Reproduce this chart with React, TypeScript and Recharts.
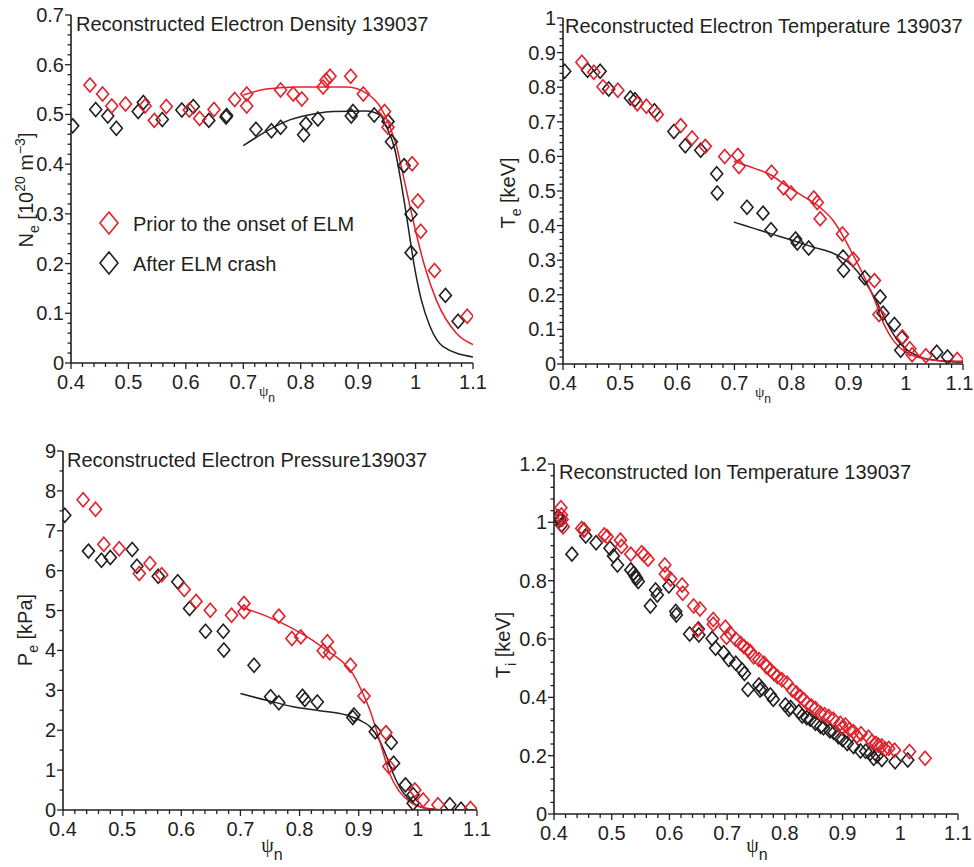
import React from "react"
import { ComposedChart, Scatter, Line, XAxis, YAxis, Label, Legend } from "recharts"

type Pt = [number, number]

const RED = "#e3202a"
const INK = "#231f20"
const FONT = "'Liberation Sans', Arial, Helvetica, sans-serif"
const GREEK = "'Liberation Serif', 'DejaVu Serif', serif"

const X_TICKS = [0.4, 0.5, 0.6, 0.7, 0.8, 0.9, 1, 1.1]
const SERIES_NAMES = ["Prior to the onset of ELM", "After ELM crash"]

// electron density [10^20 m^-3]
const NE_TICKS = [0, 0.1, 0.2, 0.3, 0.4, 0.5, 0.6, 0.7]
const NE_PRIOR: Pt[] = [
    [0.433, 0.559], [0.455, 0.541], [0.471, 0.517], [0.495, 0.521], [0.529, 0.517],
    [0.545, 0.488], [0.566, 0.516], [0.606, 0.509], [0.624, 0.492], [0.649, 0.51],
    [0.685, 0.53], [0.706, 0.541], [0.706, 0.517], [0.765, 0.549], [0.787, 0.541],
    [0.802, 0.531], [0.839, 0.555], [0.844, 0.569], [0.851, 0.577], [0.887, 0.577],
    [0.909, 0.541], [0.946, 0.506], [0.952, 0.474], [0.994, 0.401], [1.004, 0.326],
    [1.009, 0.265], [1.033, 0.186], [1.09, 0.094],
]
const NE_AFTER: Pt[] = [
    [0.403, 0.477], [0.443, 0.51], [0.464, 0.497], [0.479, 0.472], [0.517, 0.506],
    [0.526, 0.524], [0.559, 0.49], [0.593, 0.509], [0.613, 0.516], [0.64, 0.488],
    [0.67, 0.495], [0.671, 0.498], [0.722, 0.47], [0.749, 0.467], [0.765, 0.474],
    [0.805, 0.459], [0.809, 0.481], [0.83, 0.491], [0.888, 0.497], [0.891, 0.506],
    [0.928, 0.499], [0.952, 0.486], [0.958, 0.445], [0.98, 0.397], [0.992, 0.299],
    [0.992, 0.222], [1.052, 0.136], [1.074, 0.084],
]
const NE_FIT_PRIOR: Pt[] = [
    [0.7, 0.539], [0.74, 0.551], [0.798, 0.555], [0.88, 0.555], [0.914, 0.543],
    [0.938, 0.516], [0.955, 0.476], [0.967, 0.435], [0.975, 0.395], [0.984, 0.348],
    [1.001, 0.261], [1.016, 0.194], [1.036, 0.127], [1.071, 0.06], [1.1, 0.037],
]
const NE_FIT_AFTER: Pt[] = [
    [0.7, 0.437], [0.74, 0.466], [0.781, 0.489], [0.827, 0.502], [0.856, 0.506],
    [0.914, 0.507], [0.938, 0.499], [0.949, 0.476], [0.964, 0.429], [0.975, 0.362],
    [0.987, 0.275], [0.998, 0.194], [1.01, 0.127], [1.025, 0.074], [1.048, 0.033],
    [1.1, 0.012],
]

// electron temperature [keV]
const TE_TICKS = [0, 0.1, 0.2, 0.3, 0.4, 0.5, 0.6, 0.7, 0.8, 0.9, 1]
const TE_PRIOR: Pt[] = [
    [0.433, 0.872], [0.454, 0.843], [0.47, 0.801], [0.496, 0.791], [0.53, 0.752],
    [0.546, 0.745], [0.565, 0.721], [0.606, 0.689], [0.626, 0.653], [0.649, 0.629],
    [0.683, 0.6], [0.706, 0.603], [0.708, 0.571], [0.765, 0.554], [0.786, 0.509],
    [0.799, 0.494], [0.839, 0.48], [0.845, 0.467], [0.85, 0.42], [0.889, 0.376],
    [0.908, 0.303], [0.945, 0.241], [0.953, 0.143], [0.994, 0.078], [1.007, 0.044],
    [1.011, 0.027], [1.035, 0.024], [1.09, 0.013],
]
const TE_AFTER: Pt[] = [
    [0.403, 0.846], [0.443, 0.849], [0.465, 0.846], [0.48, 0.795], [0.518, 0.769],
    [0.526, 0.764], [0.56, 0.732], [0.594, 0.672], [0.614, 0.631], [0.641, 0.618],
    [0.669, 0.55], [0.67, 0.494], [0.722, 0.453], [0.75, 0.436], [0.764, 0.388],
    [0.807, 0.361], [0.81, 0.35], [0.83, 0.335], [0.89, 0.309], [0.891, 0.271],
    [0.928, 0.249], [0.955, 0.194], [0.96, 0.147], [0.98, 0.114], [0.993, 0.075],
    [0.991, 0.04], [1.054, 0.034], [1.073, 0.02],
]
const TE_FIT_PRIOR: Pt[] = [
    [0.699, 0.586], [0.734, 0.566], [0.763, 0.547], [0.792, 0.514], [0.822, 0.483],
    [0.851, 0.451], [0.874, 0.412], [0.892, 0.364], [0.909, 0.311], [0.927, 0.253],
    [0.944, 0.19], [0.962, 0.114], [0.979, 0.066], [0.997, 0.037], [1.026, 0.017],
    [1.055, 0.01], [1.1, 0.008],
]
const TE_FIT_AFTER: Pt[] = [
    [0.699, 0.41], [0.734, 0.392], [0.769, 0.374], [0.804, 0.356], [0.839, 0.337],
    [0.874, 0.319], [0.897, 0.297], [0.915, 0.268], [0.932, 0.229], [0.95, 0.176],
    [0.967, 0.118], [0.985, 0.07], [1.002, 0.041], [1.026, 0.02], [1.055, 0.01],
    [1.1, 0.005],
]

// electron pressure [kPa]
const PE_TICKS = [0, 1, 2, 3, 4, 5, 6, 7, 8, 9]
const PE_PRIOR: Pt[] = [
    [0.434, 7.78], [0.455, 7.54], [0.469, 6.66], [0.495, 6.55], [0.529, 5.93],
    [0.547, 6.18], [0.567, 5.9], [0.605, 5.53], [0.625, 5.23], [0.649, 5.01],
    [0.685, 4.88], [0.706, 5.18], [0.706, 4.97], [0.765, 4.86], [0.787, 4.3],
    [0.802, 4.34], [0.84, 3.99], [0.847, 4.22], [0.851, 3.94], [0.886, 3.63],
    [0.909, 2.86], [0.946, 1.94], [0.951, 1.09], [0.995, 0.5], [1.009, 0.25],
    [1.034, 0.13], [1.089, 0.04],
]
const PE_AFTER: Pt[] = [
    [0.403, 7.39], [0.443, 6.49], [0.465, 6.26], [0.48, 6.33], [0.517, 6.53],
    [0.525, 6.11], [0.561, 5.86], [0.594, 5.72], [0.614, 5.05], [0.641, 4.48],
    [0.671, 4.48], [0.672, 4.01], [0.723, 3.63], [0.751, 2.84], [0.765, 2.69],
    [0.805, 2.85], [0.809, 2.77], [0.83, 2.71], [0.892, 2.38], [0.89, 2.32],
    [0.928, 1.96], [0.955, 1.69], [0.959, 1.17], [0.979, 0.63], [0.992, 0.38],
    [0.992, 0.17], [1.054, 0.13], [1.073, 0.02],
]
const PE_FIT_PRIOR: Pt[] = [
    [0.7, 5.09], [0.744, 4.86], [0.783, 4.59], [0.817, 4.3], [0.845, 4.01],
    [0.873, 3.71], [0.89, 3.42], [0.907, 2.92], [0.919, 2.5], [0.93, 2.0],
    [0.941, 1.46], [0.952, 0.92], [0.969, 0.46], [0.986, 0.21], [1.014, 0.04],
    [1.043, 0.0], [1.1, 0.0],
]
const PE_FIT_AFTER: Pt[] = [
    [0.7, 2.92], [0.744, 2.75], [0.789, 2.59], [0.834, 2.49], [0.879, 2.38],
    [0.902, 2.25], [0.919, 2.09], [0.935, 1.75], [0.947, 1.34], [0.958, 0.92],
    [0.969, 0.58], [0.981, 0.33], [0.997, 0.13], [1.02, 0.03], [1.054, 0.0],
    [1.1, 0.0],
]

// ion temperature [keV], no fits drawn
const TI_TICKS = [0, 0.2, 0.4, 0.6, 0.8, 1, 1.2]
const TI_PRIOR: Pt[] = [
    [0.412, 1.05], [0.413, 1.025], [0.414, 1.01], [0.416, 0.985], [0.448, 0.979],
    [0.452, 0.974], [0.487, 0.957], [0.492, 0.951], [0.515, 0.939], [0.517, 0.917],
    [0.533, 0.891], [0.552, 0.896], [0.556, 0.888], [0.563, 0.873], [0.592, 0.854],
    [0.593, 0.823], [0.602, 0.806], [0.622, 0.785], [0.623, 0.757], [0.642, 0.713],
    [0.653, 0.703], [0.649, 0.631], [0.676, 0.667], [0.676, 0.651], [0.697, 0.64],
    [0.699, 0.606], [0.705, 0.62], [0.715, 0.599], [0.723, 0.585], [0.729, 0.574],
    [0.735, 0.565], [0.74, 0.557], [0.746, 0.539], [0.755, 0.53], [0.764, 0.517],
    [0.768, 0.505], [0.775, 0.494], [0.781, 0.482], [0.787, 0.471], [0.795, 0.46],
    [0.804, 0.448], [0.813, 0.425], [0.82, 0.415], [0.827, 0.402], [0.833, 0.392],
    [0.839, 0.379], [0.846, 0.37], [0.853, 0.362], [0.862, 0.345], [0.869, 0.34],
    [0.876, 0.334], [0.884, 0.325], [0.896, 0.311], [0.899, 0.296], [0.905, 0.305],
    [0.912, 0.29], [0.919, 0.282], [0.925, 0.267], [0.932, 0.275], [0.945, 0.263],
    [0.951, 0.248], [0.958, 0.242], [0.962, 0.236], [0.968, 0.233], [0.974, 0.222],
    [0.98, 0.225], [0.99, 0.219], [1.016, 0.214], [1.043, 0.191],
]
const TI_AFTER: Pt[] = [
    [0.407, 1.019], [0.41, 1.008], [0.413, 0.991], [0.431, 0.891], [0.452, 0.974],
    [0.455, 0.953], [0.473, 0.93], [0.497, 0.911], [0.503, 0.885], [0.51, 0.854],
    [0.533, 0.837], [0.538, 0.825], [0.541, 0.814], [0.543, 0.808], [0.546, 0.797],
    [0.567, 0.713], [0.576, 0.768], [0.579, 0.751], [0.599, 0.782], [0.611, 0.694],
    [0.612, 0.682], [0.635, 0.617], [0.65, 0.634], [0.651, 0.614], [0.674, 0.602],
    [0.68, 0.568], [0.694, 0.553], [0.703, 0.53], [0.715, 0.517], [0.726, 0.494],
    [0.73, 0.482], [0.736, 0.427], [0.755, 0.442], [0.757, 0.425], [0.76, 0.43],
    [0.775, 0.408], [0.78, 0.393], [0.801, 0.374], [0.807, 0.359], [0.81, 0.365],
    [0.824, 0.351], [0.83, 0.336], [0.838, 0.33], [0.844, 0.325], [0.853, 0.311],
    [0.862, 0.3], [0.867, 0.296], [0.878, 0.285], [0.885, 0.279], [0.893, 0.265],
    [0.9, 0.255], [0.908, 0.242], [0.919, 0.231], [0.931, 0.216], [0.94, 0.215],
    [0.948, 0.208], [0.954, 0.191], [0.96, 0.2], [0.968, 0.187], [0.991, 0.179],
    [1.013, 0.185],
]

const steps = (lo: number, hi: number, step: number) =>
    Array.from({ length: Math.round((hi - lo) / step) + 1 }, (_, i) => +(lo + i * step).toFixed(4))
const isMajor = (v: number, majors: number[]) => majors.some((m) => Math.abs(m - v) < 1e-6)
const fmt = (v: number) => String(+v.toFixed(1))
const toRows = (pts: Pt[]) => pts.map(([x, y]) => ({ x, y }))

const X_ALL = steps(0.4, 1.1, 0.02)

function XTick(props: any) {
    const { x, y, payload, majors, lastDx = 0 } = props
    const major = isMajor(payload.value, majors)
    const isLast = Math.abs(payload.value - majors[majors.length - 1]) < 1e-6
    return (
        <g>
            <line x1={x} x2={x} y1={y} y2={y + (major ? 6 : 4)} stroke={INK} strokeWidth={1.3} />
            {major && (
                <text
                    x={x + (isLast ? lastDx : 0)}
                    y={y + 26}
                    textAnchor="middle"
                    fontSize={20}
                    fontFamily={FONT}
                    fill={INK}
                >
                    {fmt(payload.value)}
                </text>
            )}
        </g>
    )
}

function YTick(props: any) {
    const { x, y, payload, majors } = props
    const major = isMajor(payload.value, majors)
    return (
        <g>
            <line x1={x} x2={x - (major ? 6 : 3.5)} y1={y} y2={y} stroke={INK} strokeWidth={1.3} />
            {major && (
                <text x={x - 7} y={y + 7} textAnchor="end" fontSize={20} fontFamily={FONT} fill={INK}>
                    {fmt(payload.value)}
                </text>
            )}
        </g>
    )
}

const diamond = (color: string) => (props: any) => {
    const { cx, cy } = props
    if (cx == null || cy == null) return <g />
    return (
        <path
            d={`M${cx},${cy - 7}L${cx + 6},${cy}L${cx},${cy + 7}L${cx - 6},${cy}Z`}
            fill="none"
            stroke={color}
            strokeWidth={1.6}
        />
    )
}

function LegendBox() {
    const colors = [RED, INK]
    return (
        <svg width={320} height={80}>
            {SERIES_NAMES.map((name, i) => {
                const cy = 18 + i * 40
                return (
                    <g key={name}>
                        <path
                            d={`M14,${cy - 11}L23,${cy}L14,${cy + 11}L5,${cy}Z`}
                            fill="none"
                            stroke={colors[i]}
                            strokeWidth={1.6}
                        />
                        <text x={38} y={cy + 8} fontSize={20} fontFamily={FONT} fill={INK}>
                            {name}
                        </text>
                    </g>
                )
            })}
        </svg>
    )
}

interface PanelProps {
    left: number
    top: number
    width: number
    height: number
    plot: { left: number; top: number; right: number; bottom: number }
    yTicks: number[]
    yMinor: number
    prior: Pt[]
    after: Pt[]
    fitPrior?: Pt[]
    fitAfter?: Pt[]
    title: string
    titlePos: [number, number]
    yLabel: React.ReactNode
    yLabelPos: [number, number]
    xLabelPos: [number, number]
    psiSize: number
    lastDx?: number
    legend?: boolean
}

function Panel(p: PanelProps) {
    const yAll = steps(p.yTicks[0], p.yTicks[p.yTicks.length - 1], p.yMinor)
    const [yx, yy] = p.yLabelPos
    const [xx, xy] = p.xLabelPos
    return (
        <div style={{ position: "absolute", left: p.left, top: p.top, width: p.width, height: p.height }}>
            <ComposedChart
                width={p.width}
                height={p.height}
                margin={{ top: p.plot.top, right: p.width - p.plot.right, left: 0, bottom: 0 }}
            >
                <XAxis
                    type="number"
                    dataKey="x"
                    domain={[0.4, 1.1]}
                    allowDataOverflow
                    ticks={X_ALL}
                    interval={0}
                    height={p.height - p.plot.bottom}
                    tickLine={false}
                    tickSize={0}
                    tickMargin={0}
                    axisLine={{ stroke: INK, strokeWidth: 1.6 }}
                    tick={<XTick majors={X_TICKS} lastDx={p.lastDx ?? 0} />}
                >
                    <Label
                        content={() => (
                            <text x={xx} y={xy} textAnchor="middle" fontSize={p.psiSize} fontFamily={GREEK} fill={INK}>
                                ψ
                                <tspan dy={p.psiSize * 0.4} fontSize={p.psiSize * 0.8} fontFamily={FONT}>n</tspan>
                            </text>
                        )}
                    />
                </XAxis>
                <YAxis
                    type="number"
                    dataKey="y"
                    domain={[p.yTicks[0], p.yTicks[p.yTicks.length - 1]]}
                    allowDataOverflow
                    ticks={yAll}
                    interval={0}
                    width={p.plot.left}
                    tickLine={false}
                    tickSize={0}
                    tickMargin={0}
                    axisLine={{ stroke: INK, strokeWidth: 1.6 }}
                    tick={<YTick majors={p.yTicks} />}
                >
                    <Label
                        content={() => (
                            <text
                                x={yx}
                                y={yy}
                                textAnchor="middle"
                                transform={`rotate(-90 ${yx} ${yy})`}
                                fontSize={20}
                                fontFamily={FONT}
                                fill={INK}
                            >
                                {p.yLabel}
                            </text>
                        )}
                    />
                    <Label
                        content={() => (
                            <text x={p.titlePos[0]} y={p.titlePos[1]} fontSize={20} fontFamily={FONT} fill={INK}>
                                {p.title}
                            </text>
                        )}
                    />
                </YAxis>
                {p.fitAfter && (
                    <Line
                        data={toRows(p.fitAfter)}
                        dataKey="y"
                        type="monotone"
                        stroke={INK}
                        strokeWidth={1.5}
                        dot={false}
                        legendType="none"
                        isAnimationActive={false}
                    />
                )}
                {p.fitPrior && (
                    <Line
                        data={toRows(p.fitPrior)}
                        dataKey="y"
                        type="monotone"
                        stroke={RED}
                        strokeWidth={1.5}
                        dot={false}
                        legendType="none"
                        isAnimationActive={false}
                    />
                )}
                <Scatter
                    name={SERIES_NAMES[1]}
                    data={toRows(p.after)}
                    dataKey="y"
                    shape={diamond(INK)}
                    isAnimationActive={false}
                />
                <Scatter
                    name={SERIES_NAMES[0]}
                    data={toRows(p.prior)}
                    dataKey="y"
                    shape={diamond(RED)}
                    isAnimationActive={false}
                />
                {p.legend && (
                    <Legend
                        layout="vertical"
                        align="center"
                        verticalAlign="middle"
                        wrapperStyle={{ left: 95, top: 205, width: 320, height: 80 }}
                        content={() => <LegendBox />}
                    />
                )}
            </ComposedChart>
        </div>
    )
}

const sub = (s: string) => <tspan dy={6} fontSize={14}>{s}</tspan>

export default function App() {
    return (
        <div
            style={{
                position: "absolute",
                left: 0,
                top: 0,
                width: 974,
                height: 867,
                background: "#fff",
                fontFamily: FONT,
                overflow: "hidden",
            }}
        >
            <Panel
                left={487}
                top={430}
                width={487}
                height={437}
                plot={{ left: 67, top: 34, right: 471, bottom: 384 }}
                yTicks={TI_TICKS}
                yMinor={0.04}
                prior={TI_PRIOR}
                after={TI_AFTER}
                title="Reconstructed Ion Temperature 139037"
                titlePos={[72, 49]}
                yLabel={
                    <>
                        T{sub("i")}
                        <tspan dy={-6}> [keV]</tspan>
                    </>
                }
                yLabelPos={[23, 215]}
                xLabelPos={[270, 422]}
                psiSize={20}
            />
            <Panel
                left={0}
                top={0}
                width={487}
                height={430}
                plot={{ left: 71, top: 15, right: 473, bottom: 363 }}
                yTicks={NE_TICKS}
                yMinor={0.02}
                prior={NE_PRIOR}
                after={NE_AFTER}
                fitPrior={NE_FIT_PRIOR}
                fitAfter={NE_FIT_AFTER}
                title="Reconstructed Electron Density 139037"
                titlePos={[76, 31]}
                yLabel={
                    <>
                        N{sub("e")}
                        <tspan dy={-6}> [10</tspan>
                        <tspan dy={-8} fontSize={14}>20</tspan>
                        <tspan dy={8}> m</tspan>
                        <tspan dy={-8} fontSize={14}>−3</tspan>
                        <tspan dy={8}>]</tspan>
                    </>
                }
                yLabelPos={[33, 190]}
                xLabelPos={[267, 396]}
                psiSize={15}
                legend
            />
            <Panel
                left={487}
                top={0}
                width={487}
                height={430}
                plot={{ left: 76, top: 18, right: 476, bottom: 364 }}
                yTicks={TE_TICKS}
                yMinor={0.02}
                prior={TE_PRIOR}
                after={TE_AFTER}
                fitPrior={TE_FIT_PRIOR}
                fitAfter={TE_FIT_AFTER}
                title="Reconstructed Electron Temperature 139037"
                titlePos={[78, 33]}
                yLabel={
                    <>
                        T{sub("e")}
                        <tspan dy={-6}> [keV]</tspan>
                    </>
                }
                yLabelPos={[28, 193]}
                xLabelPos={[276, 397]}
                psiSize={15}
                lastDx={-3.5}
            />
            <Panel
                left={0}
                top={430}
                width={500}
                height={437}
                plot={{ left: 63, top: 21, right: 477, bottom: 380 }}
                yTicks={PE_TICKS}
                yMinor={0.5}
                prior={PE_PRIOR}
                after={PE_AFTER}
                fitPrior={PE_FIT_PRIOR}
                fitAfter={PE_FIT_AFTER}
                title="Reconstructed Electron Pressure139037"
                titlePos={[67, 37]}
                yLabel={
                    <>
                        P{sub("e")}
                        <tspan dy={-6}> [kPa]</tspan>
                    </>
                }
                yLabelPos={[32, 200]}
                xLabelPos={[272, 422]}
                psiSize={20}
            />
        </div>
    )
}
